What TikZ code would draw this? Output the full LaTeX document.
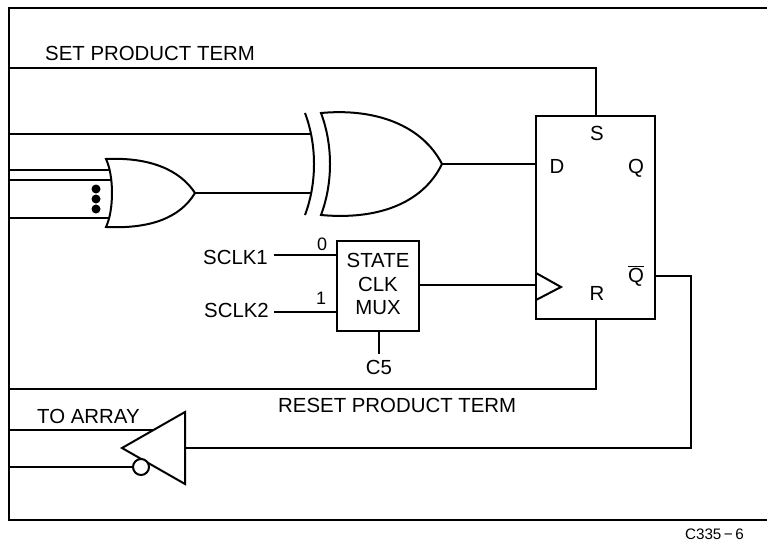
\documentclass[tikz,border=0pt]{standalone}
\usepackage{fontspec}
\setmainfont{Liberation Sans}
\tikzset{
  wire/.style={line width=2pt,line cap=butt,line join=miter},
  gate/.style={line width=2pt,fill=white,line join=miter},
  lbl/.style={inner sep=0pt,font=\fontsize{20.4}{22}\selectfont,text=black},
  pinlbl/.style={lbl,anchor=base},
  small/.style={inner sep=0pt,font=\fontsize{18}{20}\selectfont,text=black},
  idlbl/.style={inner sep=0pt,font=\fontsize{15.2}{18}\selectfont,text=black}
}
\begin{document}
\begin{tikzpicture}[x=1pt,y=-1pt]
\useasboundingbox (0,0) rectangle (767,546);
% frame
\coordinate (ftr) at (767,8);
\coordinate (ftl) at (9,8);
\coordinate (fbl) at (9,520);
\coordinate (fbr) at (767,520);
\draw[wire] (ftr) -- (ftl) -- (fbl) -- (fbr);
% flip-flop
\node[draw,line width=2pt,minimum width=119pt,minimum height=203pt,inner sep=0pt] (ff) at (595.5,217.5) {};
\coordinate (ffS) at (596,116);
\coordinate (ffR) at (596,319);
\coordinate (ffD) at (536,164);
\coordinate (ffC) at (536,285);
\coordinate (ffQ) at (655,276);
\draw[wire] (9,68) -- (596,68) -- (ffS);
\draw[wire] (ffR) -- (596,389) -- (9,389);
\draw[wire] (536,273) -- (561,287) -- (536,300);
\node[pinlbl] (sS) at (597,140) {S};
\node[pinlbl] (sD) at (557,173) {D};
\node[pinlbl] (sQ) at (636,173) {Q};
\node[pinlbl] (sR) at (597,300) {R};
\node[pinlbl] (sNQ) at (636,282) {$\overline{\mbox{Q}}$};
% inputs
\draw[wire] (9,134) -- (312,134);
\draw[wire] (195,193) -- (312,193);
\draw[wire] (9,170) -- (112,170);
\draw[wire] (9,180) -- (112,180);
\draw[wire] (9,218) -- (112,218);
% OR gate
\draw[gate] (106,159) .. controls (114,176) and (114,210) .. (106,227)
  .. controls (150,229) and (180,218) .. (195,193)
  .. controls (180,170) and (150,157) .. (106,159) -- cycle;
\fill (96,189) circle (4.5) (96,199) circle (4.5) (96,209) circle (4.5);
% XOR gate
\draw[line width=2pt] (305,113) .. controls (317,145) and (317,183) .. (305,215);
\draw[gate] (321,113) .. controls (333,145) and (333,183) .. (321,215)
  .. controls (375,220) and (422,205) .. (442,164)
  .. controls (422,125) and (375,108) .. (321,113) -- cycle;
\draw[wire] (442,164) -- (ffD);
% MUX
\node[draw,line width=2pt,minimum width=82pt,minimum height=90pt,inner sep=0pt] (mux) at (378,286) {};
\node[pinlbl] (muxa) at (378,267) {STATE};
\node[pinlbl] (muxb) at (378,291) {CLK};
\node[pinlbl] (muxc) at (378,314) {MUX};
\draw[wire] (mux.east |- ffC) -- (ffC);
\node[pinlbl,anchor=base east] (s1) at (268,264) {SCLK1};
\node[pinlbl,anchor=base east] (s2) at (269,317) {SCLK2};
\draw[wire] (274,255) -- (337,255);
\draw[wire] (274,312) -- (337,312);
\node[small] (n0) at (322,244) {0};
\node[small] (n1) at (321,298) {1};
\node[pinlbl] (c5) at (379,374) {C5};
\draw[wire] (379,331) -- (379,354);
% labels
\node[lbl,anchor=west] (set) at (45,53) {SET PRODUCT TERM};
\node[lbl,anchor=west] (reset) at (278,405) {RESET PRODUCT TERM};
\node[lbl,anchor=west] (arr) at (37,416) {TO ARRAY};
\node[idlbl,anchor=east] (cid) at (744,534) {C335\,−\,6};
% output buffer
\draw[wire] (9,430) -- (155,430);
\draw[wire] (9,467) -- (135,467);
\draw[gate] (185,412) -- (185,484) -- (122,448) -- cycle;
\draw[line width=2pt,fill=white] (141,467) circle (8);
\draw[wire] (ffQ) -- (691,276) -- (691,448) -- (185,448);
\end{tikzpicture}
\end{document}
